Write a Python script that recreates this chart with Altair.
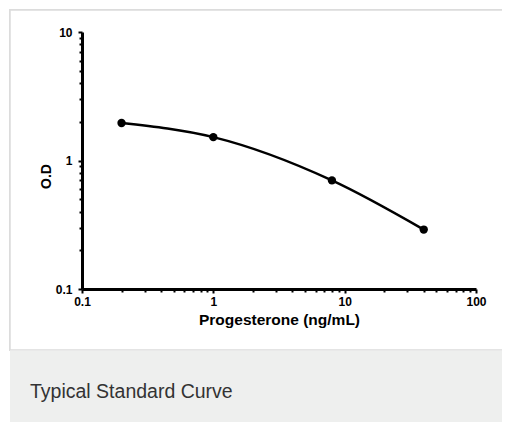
import altair as alt
import pandas as pd

# Data
conc = [0.2, 1, 8, 40]
od = [1.96, 1.52, 0.70, 0.29]

x_ticks = [0.1, 0.2, 0.3, 0.4, 0.5, 0.6, 0.7, 0.8, 0.9,
           1, 2, 3, 4, 5, 6, 7, 8, 9,
           10, 20, 30, 40, 50, 60, 70, 80, 90, 100]
y_ticks = [0.1, 0.2, 0.3, 0.4, 0.5, 0.6, 0.7, 0.8, 0.9,
           1, 2, 3, 4, 5, 6, 7, 8, 9, 10]

x_title = "Progesterone (ng/mL)"
y_title = "O.D"
caption = "Typical Standard Curve"

df = pd.DataFrame({"conc": conc, "od": od})

major = "datum.value == 0.1 || datum.value == 1 || datum.value == 10 || datum.value == 100"
label_expr = f"({major}) ? format(datum.value, '~g') : ''"

W, H = 394, 257
PL, PT = 74, 24
CW, CH = 494, 414

x_enc = alt.X(
    "conc:Q",
    scale=alt.Scale(type="log", domain=[0.1, 100], nice=False),
    axis=alt.Axis(
        values=x_ticks, labelExpr=label_expr, title=x_title,
        tickSize=alt.condition(major, alt.value(4), alt.value(3)),
        tickWidth=2, tickColor="black", domainColor="black", domainWidth=3,
        labelFont="Liberation Sans", labelFontWeight="bold", labelFontSize=12,
        labelColor="black", labelPadding=3, labelFlush=False, labelOverlap=False,
        titleFont="Liberation Sans", titleFontWeight="bold", titleFontSize=15.5,
        titleColor="black", titlePadding=5, grid=False, zindex=1,
    ),
)
y_enc = alt.Y(
    "od:Q",
    scale=alt.Scale(type="log", domain=[0.1, 10], nice=False),
    axis=alt.Axis(
        values=y_ticks, labelExpr=label_expr, title=y_title,
        tickSize=alt.condition(major, alt.value(4), alt.value(3)),
        tickWidth=2, tickColor="black", domainColor="black", domainWidth=3,
        labelFont="Liberation Sans", labelFontWeight="bold", labelFontSize=12,
        labelColor="black", labelPadding=6, labelFlush=False, labelOverlap=False,
        titleFont="Liberation Sans", titleFontWeight="bold", titleFontSize=14,
        titleColor="black", titleX=-36, titleY=144, titleAlign="center",
        titleBaseline="middle", grid=False, zindex=1,
    ),
)

frame = alt.Chart(df).mark_rect(
    fill="white", stroke="#dcdcdc", strokeWidth=1.5, clip=False
).encode(
    x=alt.value(-72), x2=alt.value(470), y=alt.value(-22), y2=alt.value(318)
)
band = alt.Chart(df).mark_rect(fill="#eeefee", clip=False).encode(
    x=alt.value(-72), x2=alt.value(470), y=alt.value(318.75), y2=alt.value(420)
)

line = alt.Chart(df).mark_line(
    color="black", strokeWidth=2.5, interpolate="monotone"
).encode(x=x_enc, y=y_enc)
points = alt.Chart(df).mark_circle(color="black", size=70, opacity=1).encode(
    x="conc:Q", y="od:Q"
)

cap = alt.Chart(pd.DataFrame({"t": [caption]})).mark_text(
    align="left", baseline="alphabetic", font="Liberation Sans",
    fontSize=19.5, color="#333333", clip=False
).encode(text="t:N", x=alt.value(-52), y=alt.value(366))

chart = alt.layer(frame, band, line, points, cap).properties(
    width=W, height=H,
    autosize=alt.AutoSizeParams(type="none"),
    padding={"left": PL, "top": PT, "right": CW - PL - W, "bottom": CH - PT - H},
).configure_view(stroke=None).configure(background="white")

chart.save("out.html", embed_options={"renderer": "svg", "actions": False})
